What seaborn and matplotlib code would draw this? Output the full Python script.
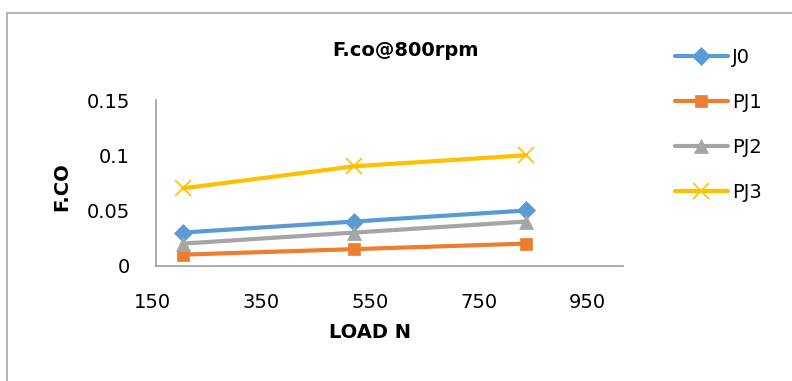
import matplotlib
matplotlib.use("Agg")
import matplotlib.pyplot as plt
import matplotlib.transforms as mtransforms
from matplotlib.patches import Rectangle
import seaborn as sns
import pandas as pd

load_n = [196.2, 490.5, 784.8]
j0 = [0.03, 0.04, 0.05]
pj1 = [0.01, 0.015, 0.02]
pj2 = [0.02, 0.03, 0.04]
pj3 = [0.07, 0.09, 0.10]
series_names = ["J0", "PJ1", "PJ2", "PJ3"]
x_ticks = [150, 350, 550, 750, 950]
y_ticks = [0, 0.05, 0.1, 0.15]
y_tick_labels = ["0", "0.05", "0.1", "0.15"]

colors = ["#5B9BD5", "#ED7D31", "#A5A5A5", "#FFC000"]
markers = ["D", "s", "^", "x"]
msizes = [9, 9, 10, 12]

sns.set_theme(style="white")
plt.rcParams["font.family"] = ["DejaVu Sans"]
plt.rcParams["text.color"] = "black"
plt.rcParams["axes.labelcolor"] = "black"

W, H = 792, 381
FS = 14
fig = plt.figure(figsize=(W / 100, H / 100), dpi=100)
ax = fig.add_axes([155.7 / W, 1 - 265.7 / H, (622.7 - 155.7) / W, (265.7 - 100) / H])

df = pd.DataFrame({"x": load_n * 4,
                   "y": j0 + pj1 + pj2 + pj3,
                   "s": sum([[n] * 3 for n in series_names], [])})

for name, c, m, ms in zip(series_names, colors, markers, msizes):
    sub = df[df["s"] == name]
    sns.lineplot(data=sub, x="x", y="y", ax=ax, color=c, linewidth=3,
                 marker=m, markersize=ms, markeredgecolor=c,
                 markeredgewidth=1.2 if m == "x" else 0.5, label=name,
                 estimator=None, sort=False)

ax.set_xlim(150, 950)
ax.set_ylim(0, 0.15)
ax.set_xticks(x_ticks)
ax.set_xticklabels([str(v) for v in x_ticks])
ax.set_yticks(y_ticks)
ax.set_yticklabels(y_tick_labels)
ax.tick_params(axis="both", length=0, labelsize=FS, colors="black", labelcolor="black")
ax.tick_params(axis="x", pad=20)
ax.tick_params(axis="y", pad=18.5)
for s in ["top", "right"]:
    ax.spines[s].set_visible(False)
for s in ["left", "bottom"]:
    ax.spines[s].set_color("#A0A0A0")
    ax.spines[s].set_linewidth(1.2)

# shift x tick labels to match reference placement
for i, lab in enumerate(ax.get_xticklabels()):
    dx = -(3.7 + 7.8 * i) / 100
    lab.set_transform(lab.get_transform() + mtransforms.ScaledTranslation(dx, 0, fig.dpi_scale_trans))

ax.set_xlabel("LOAD N", fontsize=FS, fontweight="bold", color="black")
ax.set_ylabel("F.CO", fontsize=FS, fontweight="bold", color="black")
ax.xaxis.set_label_coords((370 - 155.7) / (622.7 - 155.7), -(333 - 265.7) / (265.7 - 100))
ax.xaxis.label.set_va("center")
ax.yaxis.set_label_coords(-(155.7 - 62) / (622.7 - 155.7), (265.7 - 187) / (265.7 - 100))
ax.yaxis.label.set_va("center")

fig.text(405 / W, 1 - 50 / H, "F.co@800rpm", fontsize=FS, fontweight="bold",
         ha="center", va="center", color="black")

leg = ax.legend(loc="upper left", bbox_to_anchor=(675 / W, 1 - 48 / H),
                bbox_transform=fig.transFigure, frameon=False, fontsize=FS,
                handlelength=2.7, labelspacing=1.33, handletextpad=0.25,
                borderaxespad=0, borderpad=0)
for t in leg.get_texts():
    t.set_color("black")

fig.patches.append(Rectangle((7 / W, -0.1), 1.2, 1 - 13 / H + 0.1,
                             transform=fig.transFigure, fill=False,
                             edgecolor="#A6A6A6", linewidth=1.2))

fig.savefig("out.png", dpi=100)
